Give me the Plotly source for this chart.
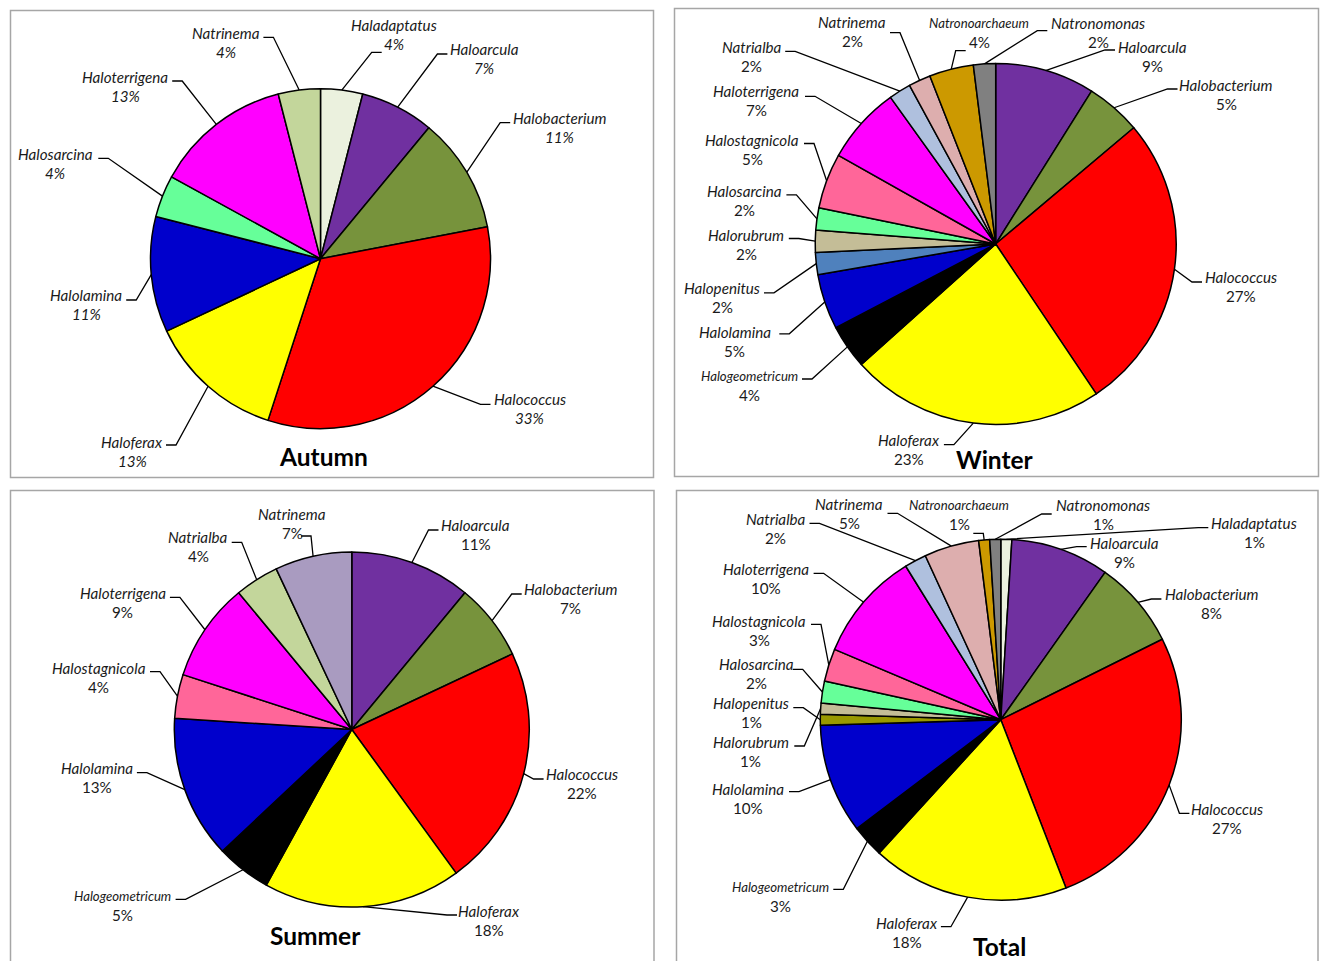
import numpy as np
import plotly.graph_objects as go

W, H = 1320, 961

# ---------------------------------------------------------------- data
autumn_genera = ["Haladaptatus", "Haloarcula", "Halobacterium", "Halococcus", "Haloferax",
                 "Halolamina", "Halosarcina", "Haloterrigena", "Natrinema"]
autumn_pct = [4, 7, 11, 33, 13, 11, 4, 13, 4]

winter_genera = ["Haloarcula", "Halobacterium", "Halococcus", "Haloferax", "Halogeometricum",
                 "Halolamina", "Halopenitus", "Halorubrum", "Halosarcina", "Halostagnicola",
                 "Haloterrigena", "Natrialba", "Natrinema", "Natronoarchaeum", "Natronomonas"]
winter_pct = [9, 5, 27, 23, 4, 5, 2, 2, 2, 5, 7, 2, 2, 4, 2]

summer_genera = ["Haloarcula", "Halobacterium", "Halococcus", "Haloferax", "Halogeometricum",
                 "Halolamina", "Halostagnicola", "Haloterrigena", "Natrialba", "Natrinema"]
summer_pct = [11, 7, 22, 18, 5, 13, 4, 9, 4, 7]

total_genera = ["Haladaptatus", "Haloarcula", "Halobacterium", "Halococcus", "Haloferax",
                "Halogeometricum", "Halolamina", "Halopenitus", "Halorubrum", "Halosarcina",
                "Halostagnicola", "Haloterrigena", "Natrialba", "Natrinema", "Natronoarchaeum",
                "Natronomonas"]
total_pct = [1, 9, 8, 27, 18, 3, 10, 1, 1, 2, 3, 10, 2, 5, 1, 1]

# ---------------------------------------------------------------- colours
palette = {
    "Haladaptatus": "#EBF1DE", "Haloarcula": "#7030A0", "Halobacterium": "#77933C",
    "Halococcus": "#FF0000", "Haloferax": "#FFFF00", "Halogeometricum": "#000000",
    "Halolamina": "#0000CC", "Halopenitus": "#4F81BD", "Halorubrum": "#C4BD97",
    "Halosarcina": "#66FF99", "Halostagnicola": "#FF6699", "Haloterrigena": "#FF00FF",
    "Natrialba": "#AFC0DE", "Natrinema": "#DDAEAE", "Natronoarchaeum": "#CC9900",
    "Natronomonas": "#808080",
}
autumn_colors = [{"Natrinema": "#C3D69B"}.get(g, palette[g]) for g in autumn_genera]
winter_colors = [palette[g] for g in winter_genera]
summer_colors = [{"Natrialba": "#C3D69B", "Natrinema": "#A99BC0"}.get(g, palette[g])
                 for g in summer_genera]
total_colors = [{"Halopenitus": "#999900"}.get(g, palette[g]) for g in total_genera]

# ---------------------------------------------------------------- label placement
# (name-text centre x, name-text centre y, leader end x, leader end y), in pixels
autumn_labels = [
    (394.0, 25.0, 381.7, 52.3), (484.3, 49.3, 447.4, 54.0), (559.5, 118.3, 510.2, 122.7),
    (529.5, 399.3, 490.5, 404.3), (132.0, 441.7, 166.0, 445.0), (86.0, 295.0, 126.2, 300.0),
    (55.2, 154.3, 98.3, 158.3), (125.0, 77.3, 172.2, 81.0), (225.6, 33.3, 263.4, 37.3),
]
winter_labels = [
    (1152.0, 46.5, 1115.0, 50.0), (1226.0, 84.7, 1177.5, 89.0), (1240.5, 277.3, 1202.0, 282.0),
    (908.9, 440.3, 943.9, 444.7), (749.2, 376.0, 802.0, 379.0), (734.8, 332.2, 779.3, 333.8),
    (722.3, 288.2, 764.0, 292.8), (746.4, 234.5, 788.8, 238.5), (744.5, 190.7, 786.4, 194.8),
    (752.2, 139.5, 804.0, 143.5), (756.4, 91.3, 805.0, 96.3), (751.5, 47.3, 785.2, 51.3),
    (852.0, 22.3, 890.0, 32.7), (979.0, 23.3, 965.7, 50.7), (1098.3, 22.7, 1047.3, 30.7),
]
summer_labels = [
    (475.9, 525.0, 438.5, 530.0), (570.7, 589.3, 521.7, 594.0), (582.0, 774.3, 543.6, 779.0),
    (489.0, 910.7, 457.0, 915.0), (122.2, 896.0, 175.6, 899.3), (96.5, 768.3, 136.9, 772.7),
    (98.6, 667.7, 150.0, 671.7), (122.5, 593.3, 169.9, 597.3), (198.3, 537.3, 231.7, 542.3),
    (292.0, 514.0, 301.0, 536.0),
]
total_labels = [
    (1254.0, 523.3, 1208.3, 527.7), (1124.0, 543.3, 1086.7, 546.7), (1211.8, 594.3, 1161.4, 599.0),
    (1227.0, 809.3, 1189.4, 813.3), (906.8, 923.3, 940.9, 926.7), (780.7, 886.7, 833.3, 889.3),
    (747.9, 789.0, 789.0, 791.7), (751.0, 703.3, 793.3, 707.7), (750.7, 742.3, 794.3, 746.0),
    (756.0, 664.0, 792.7, 669.3), (759.3, 621.0, 811.0, 624.3), (765.5, 569.3, 813.6, 573.3),
    (775.8, 519.3, 809.5, 523.3), (849.3, 504.3, 887.5, 513.3), (959.3, 505.0, 973.3, 533.3),
    (1103.3, 505.0, 1051.7, 514.0),
]

panels = [
    dict(title="Autumn", genera=autumn_genera, pct=autumn_pct, colors=autumn_colors,
         labels=autumn_labels, cx=320.5, cy=258.7, r=170.0, title_xy=(323.5, 456.7),
         box=(10.5, 10.5, 653.5, 477.5), italic_pct=True),
    dict(title="Winter", genera=winter_genera, pct=winter_pct, colors=winter_colors,
         labels=winter_labels, cx=995.7, cy=244.0, r=180.5, title_xy=(995.4, 459.7),
         box=(674.5, 8.5, 1318.5, 476.5), italic_pct=False),
    dict(title="Summer", genera=summer_genera, pct=summer_pct, colors=summer_colors,
         labels=summer_labels, cx=351.8, cy=729.5, r=177.5, title_xy=(315.0, 935.0),
         box=(10.5, 490.5, 654.0, 965.0), italic_pct=False),
    dict(title="Total", genera=total_genera, pct=total_pct, colors=total_colors,
         labels=total_labels, cx=1000.8, cy=719.7, r=180.5, title_xy=(999.2, 946.0),
         box=(676.5, 490.5, 1318.0, 965.0), italic_pct=False),
]

SMALL_NAMES = {"Halogeometricum", "Natronoarchaeum"}
FONT = "Lato"
TEXT_COLOR = "#1a1a1a"
NAME_SIZE = 15.2
SMALL_SIZE = 13.2
LINE_GAP = 19

fig = go.Figure()

# invisible pixel-space axes used by the leader lines, boxes and labels
fig.add_trace(go.Scatter(x=[0, W], y=[0, H], mode="markers", marker=dict(opacity=0),
                         hoverinfo="skip", showlegend=False))

for p in panels:
    cx, cy, r = p["cx"], p["cy"], p["r"]
    fig.add_trace(go.Pie(
        labels=p["genera"], values=p["pct"], sort=False, direction="clockwise", rotation=0,
        marker=dict(colors=p["colors"], line=dict(color="black", width=1.5)),
        textinfo="none", showlegend=False, hoverinfo="label+percent",
        domain=dict(x=[(cx - r) / W, (cx + r) / W], y=[1 - (cy + r) / H, 1 - (cy - r) / H]),
    ))

    # panel frame
    x0, y0, x1, y1 = p["box"]
    fig.add_shape(type="rect", xref="x", yref="y", x0=x0, y0=y0, x1=x1, y1=y1,
                  line=dict(color="#A6A6A6", width=1.5), fillcolor="rgba(0,0,0,0)")

    # slice mid-angles (clockwise from 12 o'clock)
    vals = np.asarray(p["pct"], dtype=float)
    frac = vals / vals.sum()
    mids = (np.cumsum(frac) - frac / 2) * 2 * np.pi

    for g, v, ang, (tx, ty, qx, qy) in zip(p["genera"], p["pct"], mids, p["labels"]):
        ex, ey = cx + r * np.sin(ang), cy - r * np.cos(ang)
        side = 1 if tx > qx else -1
        bx = qx - 10 * side
        fig.add_shape(type="path", xref="x", yref="y",
                      path=f"M {ex:.2f},{ey:.2f} L {bx:.2f},{qy:.2f} L {qx:.2f},{qy:.2f}",
                      line=dict(color="black", width=1.3))
        size = SMALL_SIZE if g in SMALL_NAMES else NAME_SIZE
        fig.add_annotation(x=tx, y=ty, xref="x", yref="y", text=f"<i>{g}</i>", showarrow=False,
                           xanchor="center", yanchor="middle",
                           font=dict(family=FONT, size=size, color=TEXT_COLOR))
        pct_text = f"<i>{v}%</i>" if p["italic_pct"] else f"{v}%"
        fig.add_annotation(x=tx, y=ty + LINE_GAP, xref="x", yref="y", text=pct_text,
                           showarrow=False, xanchor="center", yanchor="middle",
                           font=dict(family=FONT, size=NAME_SIZE, color=TEXT_COLOR))

    tx, ty = p["title_xy"]
    fig.add_annotation(x=tx, y=ty, xref="x", yref="y", text=f"<b>{p['title']}</b>",
                       showarrow=False, xanchor="center", yanchor="middle",
                       font=dict(family=FONT, size=24.5, color="black"))

fig.update_layout(
    width=W, height=H, margin=dict(l=0, r=0, t=0, b=0),
    paper_bgcolor="white", plot_bgcolor="white", showlegend=False,
    xaxis=dict(range=[0, W], visible=False, fixedrange=True, domain=[0, 1]),
    yaxis=dict(range=[H, 0], visible=False, fixedrange=True, domain=[0, 1]),
)

fig.write_html("out.html")
